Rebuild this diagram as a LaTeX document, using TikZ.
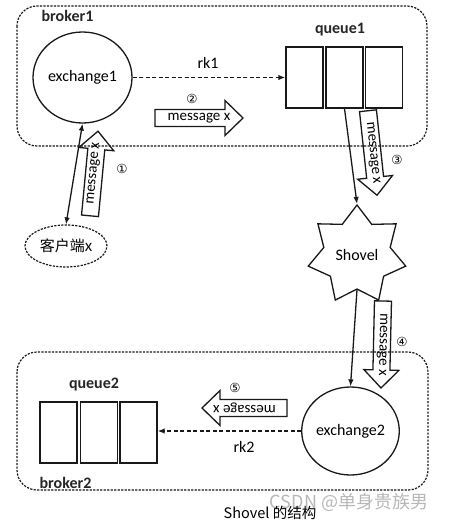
\documentclass[tikz,border=0pt]{standalone}
\usepackage{fontspec}
\setmainfont{Carlito}
\newfontfamily\cjk{Noto Sans CJK SC}
\newfontfamily\dejavu{DejaVu Sans}
\usetikzlibrary{arrows.meta,shapes.geometric}
\colorlet{ink}{black!90}
\tikzset{
  broker/.style={draw=ink, line width=1.2pt, dash pattern=on 2.2pt off 1.3pt, rounded corners=20pt},
  lbl/.style={font=\fontsize{16}{16}\selectfont, text=black, inner sep=0pt},
  blbl/.style={font=\bfseries\fontsize{16}{16}\selectfont, text=black!85, inner sep=0pt},
  msg/.style={font=\fontsize{15}{15}\selectfont, text=black, inner sep=0pt},
  circnum/.style={font=\dejavu\fontsize{12.5}{12.5}\selectfont, text=black, inner sep=0pt},
  exch/.style={ellipse, draw=ink, line width=1.3pt, font=\fontsize{16}{16}\selectfont, text=black, inner sep=0pt},
  qcell/.style={rectangle, draw=ink, line width=1.3pt, minimum width=37pt, minimum height=61pt, inner sep=0pt},
  fatbody/.style={draw=ink, line width=1.3pt, line join=miter},
  conn/.style={draw=ink, line width=1.3pt, -{Latex[length=7pt,width=5.5pt]}},
  dconn/.style={draw=ink, line width=1.4pt, dash pattern=on 4pt off 2.5pt, -{Latex[length=7pt,width=5.5pt]}},
}
\newcommand\fatarrow[5]{%
  \begin{scope}[shift={(#2)},rotate=#3]
    \draw[fatbody] ({-#4/2},-8.5) -- ({#4/2-18},-8.5) -- ({#4/2-18},-17.5) -- ({#4/2},0)
      -- ({#4/2-18},17.5) -- ({#4/2-18},8.5) -- ({-#4/2},8.5) -- cycle;
    \node[msg,rotate=#3] (#1) at (0,0) {#5};
  \end{scope}}
\begin{document}
\begin{tikzpicture}[x=1pt,y=-1pt]
\useasboundingbox[fill=white] (0,0) rectangle (449,522);
% brokers
\draw[broker] (17,6) rectangle (427,146);
\draw[broker] (17,352) rectangle (428,490);
\node[blbl] (b1) at (67.5,16) {broker1};
\node[blbl] (b2) at (65.5,483) {broker2};
% exchanges
\node[exch, minimum width=99pt, minimum height=91pt] (ex1) at (82.5,77.5) {exchange1};
\node[exch, minimum width=95pt, minimum height=88pt] (ex2) at (350.5,431) {exchange2};
% queue1
\node[qcell] (q1a) at (304.5,77.5) {};
\node[qcell] (q1b) at (344.5,77.5) {};
\node[qcell] (q1c) at (384,77.5) {};
\node[blbl] (q1l) at (340,30) {queue1};
% queue2
\node[qcell] (q2a) at (58.5,432.5) {};
\node[qcell] (q2b) at (99,432.5) {};
\node[qcell] (q2c) at (138.5,432.5) {};
\node[blbl] (q2l) at (94,385) {queue2};
% client
\node[ellipse, draw=ink, line width=1.2pt, dash pattern=on 2.2pt off 1.3pt, minimum width=82pt, minimum height=42pt, inner sep=0pt,
      font=\cjk\fontsize{15}{15}\selectfont, text=black] (cli) at (66,246) {客户端x};
% shovel
\node[star, star points=7, star point ratio=1.47, minimum size=100pt, draw=ink, line width=1.3pt, inner sep=0pt,
      font=\fontsize{16}{16}\selectfont, text=black] (sh) at (357,255) {Shovel};
% connectors
\draw[dconn] (ex1.east) -- (ex1.east -| q1a.west);
\node[lbl] (rk1) at (208,63) {rk1};
\draw[dconn] (ex2.west) -- (ex2.west -| q2c.east);
\node[lbl] (rk2) at (244,447) {rk2};
\draw[conn, {Latex[length=7pt,width=5.5pt]}-{Latex[length=7pt,width=5.5pt]}] (cli.north) -- (ex1.south);
\draw[conn] (q1b.south) -- (sh.outer point 1);
\draw[conn] (sh.south) -- (ex2.north);
% fat arrows
\fatarrow{m2}{199,118}{0}{88}{message x}
\fatarrow{m1}{94,173.5}{84.6}{85}{message x}
\fatarrow{m3}{372.5,153}{-83.9}{85}{message x}
\fatarrow{m4}{382,344.5}{-91.3}{87}{message x}
\fatarrow{m5}{244.5,408}{180}{85}{message x}
% circled numbers
\node[circnum] (n1) at (122,169) {①};
\node[circnum] (n2) at (192,99) {②};
\node[circnum] (n3) at (397,160) {③};
\node[circnum] (n4) at (402,342) {④};
\node[circnum] (n5) at (235,388) {⑤};
% caption and watermark
\node[font=\cjk\fontsize{18}{18}\selectfont, text=black!28, inner sep=0pt] (wm) at (349,502) {CSDN @单身贵族男};
\node[font=\cjk\fontsize{14.5}{14.5}\selectfont, text=black, inner sep=0pt] (cap) at (270,513) {Shovel 的结构};
\end{tikzpicture}
\end{document}
